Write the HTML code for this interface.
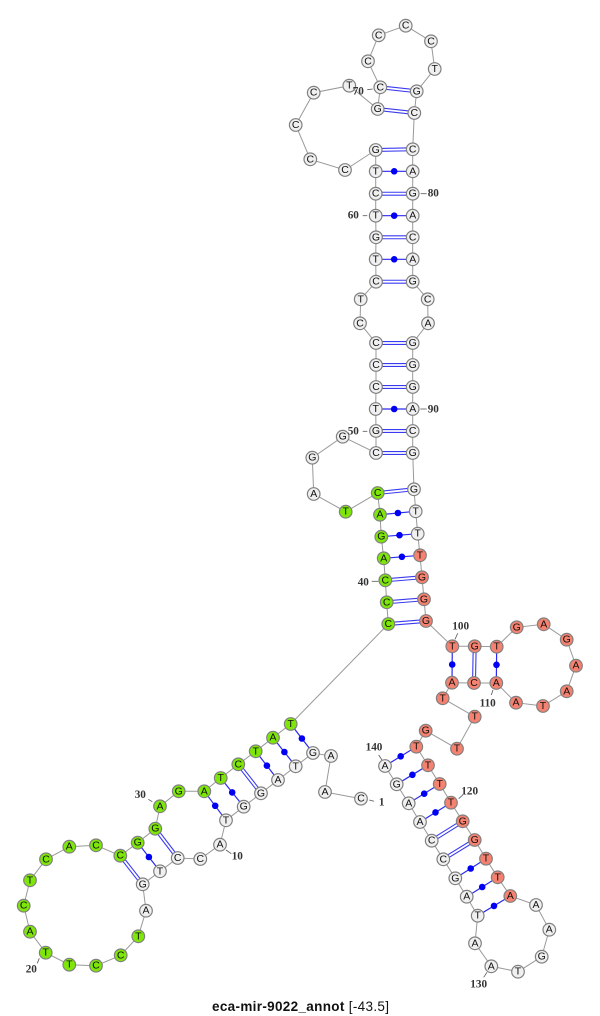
<!DOCTYPE html>
<html><head><meta charset="utf-8"><style>
html,body{margin:0;padding:0;background:#fff}
svg{display:block}
.n circle{stroke:#808080;stroke-width:1.2}
.n text{font:10.5px "Liberation Sans",sans-serif;text-anchor:middle;dominant-baseline:central;fill:#111}
.w circle{fill:#f0f0f0}
.g circle{fill:#7fe60a}
.r circle{fill:#f58270}
.l text{font:bold 11.2px "Liberation Serif",serif;text-anchor:middle;dominant-baseline:central;fill:#333}
.l line{stroke:#555;stroke-width:.8}
</style></head><body>
<svg width="600" height="1016" viewBox="0 0 600 1016" xmlns="http://www.w3.org/2000/svg">
<polyline fill="none" stroke="#999" stroke-width="1" points="361,798.7 325,792 331,756 313,753 295.7,766.3 278,780 261,793.3 243.7,806.7 226,820.3 220,844.7 200.3,859 177.7,858 160,871.3 142.7,884.3 146,910.7 138.3,936.3 120.7,955.3 96,965.7 69.3,964.7 45.7,952.7 30,931.7 23.7,905.7 30,880.3 46,859.3 69.3,846.7 96,845.3 120.3,855.7 137.7,842.7 155.3,828.7 160,806.3 178.7,791.3 204.3,791.3 220.7,778 238.3,764.3 255.7,751.3 273,737.7 290.7,724 388.3,624 386.7,602.3 385.3,580.3 383.7,558.3 381.3,536.7 380,514.7 377.7,493 345.7,511.7 313.7,494 312.3,457.7 342.7,436.7 376,453 376,431 375.7,409 376,387 376,365 376,343 360,323.3 360.7,299.3 376,281.7 375.7,259.3 376,237.3 375.7,215.7 375.7,193.7 375.7,171.3 375.7,150 345,170 310.3,159.3 295.7,125 313.7,92.7 349.3,85.7 377.7,109 380.3,87.3 368,61.3 378.7,35.3 405.7,25.7 431,41.3 434.7,69 416.7,91.3 414.3,113 412.7,149.3 412.7,171.3 412.7,193.7 412.7,215.7 412.7,237.3 412.7,259.3 412.7,281.7 427.7,299.3 428,323.3 412.7,343 412.7,365 412.7,387 412.7,409 412.7,431 412.7,453 414,489.3 415.7,511.3 417.7,533.7 420,555.3 422,577.3 424,599.3 426,621 452.3,646.3 474.7,646.3 496.7,646.7 516.7,627.3 543.7,624.3 566.7,639.7 576,665.7 566.7,691.3 543,706 516,702.7 496.3,683 474,683 452,682.7 442.7,698.3 474.7,716.7 457,748.7 425.7,730.7 416.3,746.7 428,765.3 439.7,784 451,802.7 462.7,821.3 474.7,840 486,858.7 497.7,877.3 510.3,896 536,905 549.3,929.7 541.7,956.7 518,971.7 491.3,966.3 475,943.3 477.7,915.7 466.7,896.7 455.3,878.3 443.3,859.3 431.7,840.7 420,822 408.7,803.3 396.7,784.3 385,766"/>
<g stroke="#3a3af0" stroke-width="4">
<line x1="261" y1="793.3" x2="238.3" y2="764.3"/><line x1="177.7" y1="858" x2="155.3" y2="828.7"/><line x1="142.7" y1="884.3" x2="120.3" y2="855.7"/>
<line x1="388.3" y1="624" x2="426" y2="621"/><line x1="386.7" y1="602.3" x2="424" y2="599.3"/><line x1="385.3" y1="580.3" x2="422" y2="577.3"/><line x1="377.7" y1="493" x2="414" y2="489.3"/>
<line x1="376" y1="453" x2="412.7" y2="453"/><line x1="376" y1="431" x2="412.7" y2="431"/><line x1="376" y1="387" x2="412.7" y2="387"/><line x1="376" y1="365" x2="412.7" y2="365"/><line x1="376" y1="343" x2="412.7" y2="343"/>
<line x1="376" y1="281.7" x2="412.7" y2="281.7"/><line x1="376" y1="237.3" x2="412.7" y2="237.3"/><line x1="375.7" y1="193.7" x2="412.7" y2="193.7"/><line x1="375.7" y1="150" x2="412.7" y2="149.3"/>
<line x1="377.7" y1="109" x2="414.3" y2="113"/><line x1="380.3" y1="87.3" x2="416.7" y2="91.3"/>
<line x1="474.7" y1="646.3" x2="474" y2="683"/><line x1="462.7" y1="821.3" x2="431.7" y2="840.7"/><line x1="474.7" y1="840" x2="443.3" y2="859.3"/>
</g>
<g stroke="#fff" stroke-width="1.8">
<line x1="261" y1="793.3" x2="238.3" y2="764.3"/><line x1="177.7" y1="858" x2="155.3" y2="828.7"/><line x1="142.7" y1="884.3" x2="120.3" y2="855.7"/>
<line x1="388.3" y1="624" x2="426" y2="621"/><line x1="386.7" y1="602.3" x2="424" y2="599.3"/><line x1="385.3" y1="580.3" x2="422" y2="577.3"/><line x1="377.7" y1="493" x2="414" y2="489.3"/>
<line x1="376" y1="453" x2="412.7" y2="453"/><line x1="376" y1="431" x2="412.7" y2="431"/><line x1="376" y1="387" x2="412.7" y2="387"/><line x1="376" y1="365" x2="412.7" y2="365"/><line x1="376" y1="343" x2="412.7" y2="343"/>
<line x1="376" y1="281.7" x2="412.7" y2="281.7"/><line x1="376" y1="237.3" x2="412.7" y2="237.3"/><line x1="375.7" y1="193.7" x2="412.7" y2="193.7"/><line x1="375.7" y1="150" x2="412.7" y2="149.3"/>
<line x1="377.7" y1="109" x2="414.3" y2="113"/><line x1="380.3" y1="87.3" x2="416.7" y2="91.3"/>
<line x1="474.7" y1="646.3" x2="474" y2="683"/><line x1="462.7" y1="821.3" x2="431.7" y2="840.7"/><line x1="474.7" y1="840" x2="443.3" y2="859.3"/>
</g>
<g stroke="#2a2af0" stroke-width="1.2">
<line x1="313" y1="753" x2="290.7" y2="724"/><line x1="295.7" y1="766.3" x2="273" y2="737.7"/><line x1="278" y1="780" x2="255.7" y2="751.3"/><line x1="243.7" y1="806.7" x2="220.7" y2="778"/><line x1="226" y1="820.3" x2="204.3" y2="791.3"/><line x1="160" y1="871.3" x2="137.7" y2="842.7"/>
<line x1="383.7" y1="558.3" x2="420" y2="555.3"/><line x1="381.3" y1="536.7" x2="417.7" y2="533.7"/><line x1="380" y1="514.7" x2="415.7" y2="511.3"/>
<line x1="375.7" y1="409" x2="412.7" y2="409"/><line x1="375.7" y1="259.3" x2="412.7" y2="259.3"/><line x1="375.7" y1="215.7" x2="412.7" y2="215.7"/><line x1="375.7" y1="171.3" x2="412.7" y2="171.3"/>
<line x1="452.3" y1="646.3" x2="452" y2="682.7"/><line x1="496.7" y1="646.7" x2="496.3" y2="683"/>
<line x1="416.3" y1="746.7" x2="385" y2="766"/><line x1="428" y1="765.3" x2="396.7" y2="784.3"/><line x1="439.7" y1="784" x2="408.7" y2="803.3"/><line x1="451" y1="802.7" x2="420" y2="822"/><line x1="486" y1="858.7" x2="455.3" y2="878.3"/><line x1="497.7" y1="877.3" x2="466.7" y2="896.7"/><line x1="510.3" y1="896" x2="477.7" y2="915.7"/>
</g>
<g fill="#0000f5">
<circle cx="301.9" cy="738.5" r="3.3"/><circle cx="284.4" cy="752" r="3.3"/><circle cx="266.9" cy="765.7" r="3.3"/><circle cx="232.2" cy="792.4" r="3.3"/><circle cx="215.2" cy="805.8" r="3.3"/><circle cx="148.9" cy="857" r="3.3"/>
<circle cx="401.9" cy="556.8" r="3.3"/><circle cx="399.5" cy="535.2" r="3.3"/><circle cx="397.9" cy="513" r="3.3"/>
<circle cx="394.2" cy="409" r="3.3"/><circle cx="394.2" cy="259.3" r="3.3"/><circle cx="394.2" cy="215.7" r="3.3"/><circle cx="394.2" cy="171.3" r="3.3"/>
<circle cx="452.2" cy="664.5" r="3.3"/><circle cx="496.5" cy="664.8" r="3.3"/>
<circle cx="400.7" cy="756.3" r="3.3"/><circle cx="412.4" cy="774.8" r="3.3"/><circle cx="424.2" cy="793.7" r="3.3"/><circle cx="435.5" cy="812.4" r="3.3"/><circle cx="470.7" cy="868.5" r="3.3"/><circle cx="482.2" cy="887" r="3.3"/><circle cx="494" cy="905.9" r="3.3"/>
</g>
<g class="l">
<line x1="369.3" y1="800" x2="374" y2="801.3"/><line x1="226" y1="850" x2="231.3" y2="853.7"/><line x1="39.3" y1="958.3" x2="37.3" y2="963.3"/><line x1="152.3" y1="801.7" x2="148.3" y2="799.3"/><line x1="378.3" y1="581.3" x2="371.7" y2="581.3"/><line x1="367.3" y1="431.3" x2="362.7" y2="431.3"/><line x1="367.3" y1="215.7" x2="362.7" y2="215.7"/><line x1="372.7" y1="89" x2="367.3" y2="89.7"/><line x1="420.7" y1="193.7" x2="426.7" y2="193.7"/><line x1="420.3" y1="409" x2="426.7" y2="409"/><line x1="455" y1="639.3" x2="457.7" y2="633.3"/><line x1="493" y1="690" x2="491.3" y2="695"/><line x1="458.7" y1="798.7" x2="462.7" y2="795"/><line x1="487" y1="972.3" x2="483.7" y2="977.3"/><line x1="382" y1="760" x2="378.7" y2="755"/>
</g>
<g class="n w">
<circle cx="361" cy="798.7" r="6.3"/><text x="361" y="798.7">C</text>
<circle cx="325" cy="792" r="6.3"/><text x="325" y="792">A</text>
<circle cx="331" cy="756" r="6.3"/><text x="331" y="756">A</text>
<circle cx="313" cy="753" r="6.3"/><text x="313" y="753">G</text>
<circle cx="295.7" cy="766.3" r="6.3"/><text x="295.7" y="766.3">T</text>
<circle cx="278" cy="780" r="6.3"/><text x="278" y="780">A</text>
<circle cx="261" cy="793.3" r="6.3"/><text x="261" y="793.3">G</text>
<circle cx="243.7" cy="806.7" r="6.3"/><text x="243.7" y="806.7">G</text>
<circle cx="226" cy="820.3" r="6.3"/><text x="226" y="820.3">T</text>
<circle cx="220" cy="844.7" r="6.3"/><text x="220" y="844.7">A</text>
<circle cx="200.3" cy="859" r="6.3"/><text x="200.3" y="859">C</text>
<circle cx="177.7" cy="858" r="6.3"/><text x="177.7" y="858">C</text>
<circle cx="160" cy="871.3" r="6.3"/><text x="160" y="871.3">T</text>
<circle cx="142.7" cy="884.3" r="6.3"/><text x="142.7" y="884.3">G</text>
<circle cx="146" cy="910.7" r="6.3"/><text x="146" y="910.7">A</text>
</g>
<g class="n g">
<circle cx="138.3" cy="936.3" r="6.3"/><text x="138.3" y="936.3">T</text>
<circle cx="120.7" cy="955.3" r="6.3"/><text x="120.7" y="955.3">C</text>
<circle cx="96" cy="965.7" r="6.3"/><text x="96" y="965.7">C</text>
<circle cx="69.3" cy="964.7" r="6.3"/><text x="69.3" y="964.7">T</text>
<circle cx="45.7" cy="952.7" r="6.3"/><text x="45.7" y="952.7">T</text>
<circle cx="30" cy="931.7" r="6.3"/><text x="30" y="931.7">A</text>
<circle cx="23.7" cy="905.7" r="6.3"/><text x="23.7" y="905.7">C</text>
<circle cx="30" cy="880.3" r="6.3"/><text x="30" y="880.3">T</text>
<circle cx="46" cy="859.3" r="6.3"/><text x="46" y="859.3">C</text>
<circle cx="69.3" cy="846.7" r="6.3"/><text x="69.3" y="846.7">A</text>
<circle cx="96" cy="845.3" r="6.3"/><text x="96" y="845.3">C</text>
<circle cx="120.3" cy="855.7" r="6.3"/><text x="120.3" y="855.7">C</text>
<circle cx="137.7" cy="842.7" r="6.3"/><text x="137.7" y="842.7">G</text>
<circle cx="155.3" cy="828.7" r="6.3"/><text x="155.3" y="828.7">G</text>
<circle cx="160" cy="806.3" r="6.3"/><text x="160" y="806.3">A</text>
<circle cx="178.7" cy="791.3" r="6.3"/><text x="178.7" y="791.3">G</text>
<circle cx="204.3" cy="791.3" r="6.3"/><text x="204.3" y="791.3">A</text>
<circle cx="220.7" cy="778" r="6.3"/><text x="220.7" y="778">T</text>
<circle cx="238.3" cy="764.3" r="6.3"/><text x="238.3" y="764.3">C</text>
<circle cx="255.7" cy="751.3" r="6.3"/><text x="255.7" y="751.3">T</text>
<circle cx="273" cy="737.7" r="6.3"/><text x="273" y="737.7">A</text>
<circle cx="290.7" cy="724" r="6.3"/><text x="290.7" y="724">T</text>
<circle cx="388.3" cy="624" r="6.3"/><text x="388.3" y="624">C</text>
<circle cx="386.7" cy="602.3" r="6.3"/><text x="386.7" y="602.3">C</text>
<circle cx="385.3" cy="580.3" r="6.3"/><text x="385.3" y="580.3">C</text>
<circle cx="383.7" cy="558.3" r="6.3"/><text x="383.7" y="558.3">A</text>
<circle cx="381.3" cy="536.7" r="6.3"/><text x="381.3" y="536.7">G</text>
<circle cx="380" cy="514.7" r="6.3"/><text x="380" y="514.7">A</text>
<circle cx="377.7" cy="493" r="6.3"/><text x="377.7" y="493">C</text>
<circle cx="345.7" cy="511.7" r="6.3"/><text x="345.7" y="511.7">T</text>
</g>
<g class="n w">
<circle cx="313.7" cy="494" r="6.3"/><text x="313.7" y="494">A</text>
<circle cx="312.3" cy="457.7" r="6.3"/><text x="312.3" y="457.7">G</text>
<circle cx="342.7" cy="436.7" r="6.3"/><text x="342.7" y="436.7">G</text>
<circle cx="376" cy="453" r="6.3"/><text x="376" y="453">C</text>
<circle cx="376" cy="431" r="6.3"/><text x="376" y="431">G</text>
<circle cx="375.7" cy="409" r="6.3"/><text x="375.7" y="409">T</text>
<circle cx="376" cy="387" r="6.3"/><text x="376" y="387">C</text>
<circle cx="376" cy="365" r="6.3"/><text x="376" y="365">C</text>
<circle cx="376" cy="343" r="6.3"/><text x="376" y="343">C</text>
<circle cx="360" cy="323.3" r="6.3"/><text x="360" y="323.3">C</text>
<circle cx="360.7" cy="299.3" r="6.3"/><text x="360.7" y="299.3">T</text>
<circle cx="376" cy="281.7" r="6.3"/><text x="376" y="281.7">C</text>
<circle cx="375.7" cy="259.3" r="6.3"/><text x="375.7" y="259.3">T</text>
<circle cx="376" cy="237.3" r="6.3"/><text x="376" y="237.3">G</text>
<circle cx="375.7" cy="215.7" r="6.3"/><text x="375.7" y="215.7">T</text>
<circle cx="375.7" cy="193.7" r="6.3"/><text x="375.7" y="193.7">C</text>
<circle cx="375.7" cy="171.3" r="6.3"/><text x="375.7" y="171.3">T</text>
<circle cx="375.7" cy="150" r="6.3"/><text x="375.7" y="150">G</text>
<circle cx="345" cy="170" r="6.3"/><text x="345" y="170">C</text>
<circle cx="310.3" cy="159.3" r="6.3"/><text x="310.3" y="159.3">C</text>
<circle cx="295.7" cy="125" r="6.3"/><text x="295.7" y="125">C</text>
<circle cx="313.7" cy="92.7" r="6.3"/><text x="313.7" y="92.7">C</text>
<circle cx="349.3" cy="85.7" r="6.3"/><text x="349.3" y="85.7">T</text>
<circle cx="377.7" cy="109" r="6.3"/><text x="377.7" y="109">G</text>
<circle cx="380.3" cy="87.3" r="6.3"/><text x="380.3" y="87.3">C</text>
<circle cx="368" cy="61.3" r="6.3"/><text x="368" y="61.3">C</text>
<circle cx="378.7" cy="35.3" r="6.3"/><text x="378.7" y="35.3">C</text>
<circle cx="405.7" cy="25.7" r="6.3"/><text x="405.7" y="25.7">C</text>
<circle cx="431" cy="41.3" r="6.3"/><text x="431" y="41.3">C</text>
<circle cx="434.7" cy="69" r="6.3"/><text x="434.7" y="69">T</text>
<circle cx="416.7" cy="91.3" r="6.3"/><text x="416.7" y="91.3">G</text>
<circle cx="414.3" cy="113" r="6.3"/><text x="414.3" y="113">C</text>
<circle cx="412.7" cy="149.3" r="6.3"/><text x="412.7" y="149.3">C</text>
<circle cx="412.7" cy="171.3" r="6.3"/><text x="412.7" y="171.3">A</text>
<circle cx="412.7" cy="193.7" r="6.3"/><text x="412.7" y="193.7">G</text>
<circle cx="412.7" cy="215.7" r="6.3"/><text x="412.7" y="215.7">A</text>
<circle cx="412.7" cy="237.3" r="6.3"/><text x="412.7" y="237.3">C</text>
<circle cx="412.7" cy="259.3" r="6.3"/><text x="412.7" y="259.3">A</text>
<circle cx="412.7" cy="281.7" r="6.3"/><text x="412.7" y="281.7">G</text>
<circle cx="427.7" cy="299.3" r="6.3"/><text x="427.7" y="299.3">C</text>
<circle cx="428" cy="323.3" r="6.3"/><text x="428" y="323.3">A</text>
<circle cx="412.7" cy="343" r="6.3"/><text x="412.7" y="343">G</text>
<circle cx="412.7" cy="365" r="6.3"/><text x="412.7" y="365">G</text>
<circle cx="412.7" cy="387" r="6.3"/><text x="412.7" y="387">G</text>
<circle cx="412.7" cy="409" r="6.3"/><text x="412.7" y="409">A</text>
<circle cx="412.7" cy="431" r="6.3"/><text x="412.7" y="431">C</text>
<circle cx="412.7" cy="453" r="6.3"/><text x="412.7" y="453">G</text>
<circle cx="414" cy="489.3" r="6.3"/><text x="414" y="489.3">G</text>
<circle cx="415.7" cy="511.3" r="6.3"/><text x="415.7" y="511.3">T</text>
<circle cx="417.7" cy="533.7" r="6.3"/><text x="417.7" y="533.7">T</text>
</g>
<g class="n r">
<circle cx="420" cy="555.3" r="6.3"/><text x="420" y="555.3">T</text>
<circle cx="422" cy="577.3" r="6.3"/><text x="422" y="577.3">G</text>
<circle cx="424" cy="599.3" r="6.3"/><text x="424" y="599.3">G</text>
<circle cx="426" cy="621" r="6.3"/><text x="426" y="621">G</text>
<circle cx="452.3" cy="646.3" r="6.3"/><text x="452.3" y="646.3">T</text>
<circle cx="474.7" cy="646.3" r="6.3"/><text x="474.7" y="646.3">G</text>
<circle cx="496.7" cy="646.7" r="6.3"/><text x="496.7" y="646.7">T</text>
<circle cx="516.7" cy="627.3" r="6.3"/><text x="516.7" y="627.3">G</text>
<circle cx="543.7" cy="624.3" r="6.3"/><text x="543.7" y="624.3">A</text>
<circle cx="566.7" cy="639.7" r="6.3"/><text x="566.7" y="639.7">G</text>
<circle cx="576" cy="665.7" r="6.3"/><text x="576" y="665.7">A</text>
<circle cx="566.7" cy="691.3" r="6.3"/><text x="566.7" y="691.3">A</text>
<circle cx="543" cy="706" r="6.3"/><text x="543" y="706">T</text>
<circle cx="516" cy="702.7" r="6.3"/><text x="516" y="702.7">A</text>
<circle cx="496.3" cy="683" r="6.3"/><text x="496.3" y="683">A</text>
<circle cx="474" cy="683" r="6.3"/><text x="474" y="683">C</text>
<circle cx="452" cy="682.7" r="6.3"/><text x="452" y="682.7">A</text>
<circle cx="442.7" cy="698.3" r="6.3"/><text x="442.7" y="698.3">T</text>
<circle cx="474.7" cy="716.7" r="6.3"/><text x="474.7" y="716.7">T</text>
<circle cx="457" cy="748.7" r="6.3"/><text x="457" y="748.7">T</text>
<circle cx="425.7" cy="730.7" r="6.3"/><text x="425.7" y="730.7">G</text>
<circle cx="416.3" cy="746.7" r="6.3"/><text x="416.3" y="746.7">T</text>
<circle cx="428" cy="765.3" r="6.3"/><text x="428" y="765.3">T</text>
<circle cx="439.7" cy="784" r="6.3"/><text x="439.7" y="784">T</text>
<circle cx="451" cy="802.7" r="6.3"/><text x="451" y="802.7">T</text>
<circle cx="462.7" cy="821.3" r="6.3"/><text x="462.7" y="821.3">G</text>
<circle cx="474.7" cy="840" r="6.3"/><text x="474.7" y="840">G</text>
<circle cx="486" cy="858.7" r="6.3"/><text x="486" y="858.7">T</text>
<circle cx="497.7" cy="877.3" r="6.3"/><text x="497.7" y="877.3">T</text>
<circle cx="510.3" cy="896" r="6.3"/><text x="510.3" y="896">A</text>
</g>
<g class="n w">
<circle cx="536" cy="905" r="6.3"/><text x="536" y="905">A</text>
<circle cx="549.3" cy="929.7" r="6.3"/><text x="549.3" y="929.7">A</text>
<circle cx="541.7" cy="956.7" r="6.3"/><text x="541.7" y="956.7">G</text>
<circle cx="518" cy="971.7" r="6.3"/><text x="518" y="971.7">T</text>
<circle cx="491.3" cy="966.3" r="6.3"/><text x="491.3" y="966.3">A</text>
<circle cx="475" cy="943.3" r="6.3"/><text x="475" y="943.3">A</text>
<circle cx="477.7" cy="915.7" r="6.3"/><text x="477.7" y="915.7">T</text>
<circle cx="466.7" cy="896.7" r="6.3"/><text x="466.7" y="896.7">A</text>
<circle cx="455.3" cy="878.3" r="6.3"/><text x="455.3" y="878.3">G</text>
<circle cx="443.3" cy="859.3" r="6.3"/><text x="443.3" y="859.3">C</text>
<circle cx="431.7" cy="840.7" r="6.3"/><text x="431.7" y="840.7">C</text>
<circle cx="420" cy="822" r="6.3"/><text x="420" y="822">A</text>
<circle cx="408.7" cy="803.3" r="6.3"/><text x="408.7" y="803.3">A</text>
<circle cx="396.7" cy="784.3" r="6.3"/><text x="396.7" y="784.3">G</text>
<circle cx="385" cy="766" r="6.3"/><text x="385" y="766">A</text>
</g>
<g class="l">
<text x="381.7" y="802.7">1</text><text x="237.3" y="856.7">10</text><text x="31.3" y="969.7">20</text><text x="140.3" y="795">30</text><text x="363.3" y="582.3">40</text><text x="353.3" y="431.3">50</text><text x="353.3" y="215.7">60</text><text x="358.3" y="91.7">70</text><text x="433.3" y="193.7">80</text><text x="433.3" y="409.7">90</text><text x="460.7" y="626.7">100</text><text x="487.7" y="703.7">110</text><text x="469.7" y="791.7">120</text><text x="478.7" y="984.7">130</text><text x="374" y="747.7">140</text>
</g>
<text x="212" y="1011" textLength="177" lengthAdjust="spacing" style="font:bold 13.5px 'Liberation Sans',sans-serif;fill:#111">eca-mir-9022_annot <tspan style="font-weight:normal">[-43.5]</tspan></text>
</svg>
</body></html>
